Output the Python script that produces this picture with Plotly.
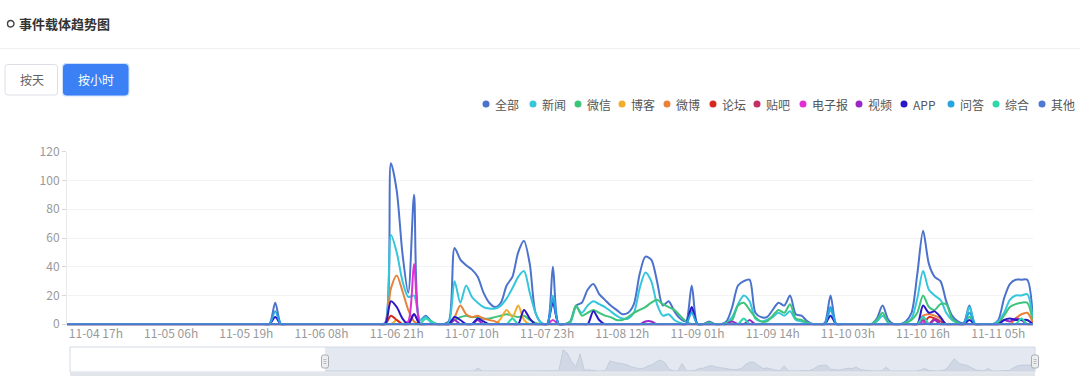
import plotly.graph_objects as go
import pandas as pd

W, H = 1080, 376

# ---------------- data (hourly, 11-04 12h .. 11-11 11h) ----------------
start_time = "2022-11-04 12:00"
n_hours = 168
times = pd.date_range(start_time, periods=n_hours, freq="h")

series_names = ["全部", "新闻", "微信", "博客", "微博", "论坛", "贴吧",
                "电子报", "视频", "APP", "问答", "综合", "其他"]
series_colors = ["#4b72cc", "#35c6db", "#3cc47a", "#f2ad2c", "#e8823a", "#d6281e",
                 "#c22f60", "#e02fd3", "#9a27c8", "#2a17c6", "#28a4df", "#2fd8a8", "#4f78d3"]

quanbu = [
    0, 0, 0, 0, 0, 0, 0, 0, 0, 0, 0, 0, 0, 0, 0, 0, 0, 0, 0, 0, 0, 0, 0, 0,
    0, 0, 0, 0, 0, 0, 0, 0, 0, 0, 0, 0, 15, 0, 0, 0, 0, 0, 0, 0, 0, 0, 0, 0,
    0, 0, 0, 0, 0, 0, 0, 1, 112, 93, 49, 22, 90, 3, 6, 2, 0, 0, 2, 53, 45, 41, 38, 33,
    22, 15, 12, 15, 27, 33, 50, 58, 42, 8, 1, 0, 40, 0, 0, 2, 13, 15, 24, 28, 21, 17, 13, 10,
    7, 8, 14, 35, 47, 45, 30, 13, 16, 9, 4, 2, 27, 0, 0, 2, 0, 0, 2, 12, 27, 30, 31, 8,
    5, 5, 10, 15, 13, 20, 7, 6, 2, 0, 0, 1, 20, 0, 0, 0, 0, 0, 0, 0, 4, 13, 3, 0,
    0, 2, 8, 35, 65, 42, 33, 30, 16, 6, 2, 1, 13, 0, 0, 0, 0, 3, 18, 28, 31, 31, 31, 3,
]
xinwen = [
    0, 0, 0, 0, 0, 0, 0, 0, 0, 0, 0, 0, 0, 0, 0, 0, 0, 0, 0, 0, 0, 0, 0, 0,
    0, 0, 0, 0, 0, 0, 0, 0, 0, 0, 0, 0, 0, 0, 0, 0, 0, 0, 0, 0, 0, 0, 0, 0,
    0, 0, 0, 0, 0, 0, 0, 0, 62, 50, 30, 19, 20, 3, 5, 1, 0, 0, 1, 30, 15, 27, 19, 15,
    12, 11, 11, 13, 18, 25, 33, 37, 22, 8, 1, 0, 20, 0, 0, 1, 12, 8, 13, 16, 14, 12, 9, 6,
    4, 4, 8, 25, 36, 30, 14, 6, 7, 3, 1, 0, 10, 0, 0, 1, 0, 0, 1, 5, 14, 20, 16, 4,
    2, 3, 5, 8, 6, 9, 3, 2, 1, 0, 0, 0, 10, 0, 0, 0, 0, 0, 0, 0, 2, 6, 1, 0,
    0, 1, 4, 18, 37, 24, 20, 17, 8, 3, 1, 0, 12, 0, 0, 0, 0, 2, 8, 17, 20, 20, 21, 2,
]
weixin = [
    0, 0, 0, 0, 0, 0, 0, 0, 0, 0, 0, 0, 0, 0, 0, 0, 0, 0, 0, 0, 0, 0, 0, 0,
    0, 0, 0, 0, 0, 0, 0, 0, 0, 0, 0, 0, 0, 0, 0, 0, 0, 0, 0, 0, 0, 0, 0, 0,
    0, 0, 0, 0, 0, 0, 0, 0, 0, 0, 0, 0, 0, 0, 0, 0, 0, 0, 0, 3, 5, 6, 5, 5,
    4, 4, 5, 6, 7, 6, 5, 6, 3, 1, 0, 0, 0, 0, 0, 2, 13, 6, 8, 10, 8, 6, 5, 3,
    3, 5, 8, 10, 12, 15, 17, 14, 12, 10, 6, 2, 0, 0, 0, 1, 0, 0, 1, 3, 13, 15, 10, 5,
    2, 2, 6, 10, 8, 14, 4, 3, 1, 0, 0, 0, 0, 0, 0, 0, 0, 0, 0, 0, 3, 8, 1, 0,
    0, 1, 3, 8, 20, 12, 10, 14, 14, 4, 1, 0, 5, 0, 0, 0, 0, 1, 6, 12, 14, 15, 15, 1,
]
boke = [
    0, 0, 0, 0, 0, 0, 0, 0, 0, 0, 0, 0, 0, 0, 0, 0, 0, 0, 0, 0, 0, 0, 0, 0,
    0, 0, 0, 0, 0, 0, 0, 0, 0, 0, 0, 0, 0, 0, 0, 0, 0, 0, 0, 0, 0, 0, 0, 0,
    0, 0, 0, 0, 0, 0, 0, 0, 0, 3, 0, 0, 0, 0, 0, 0, 0, 0, 0, 0, 0, 0, 0, 0,
    0, 0, 0, 4, 10, 5, 13, 3, 0, 0, 0, 0, 0, 0, 0, 0, 0, 0, 0, 0, 0, 0, 0, 0,
    0, 0, 0, 0, 0, 0, 0, 0, 0, 0, 0, 0, 0, 0, 0, 0, 0, 0, 0, 0, 0, 0, 0, 0,
    0, 0, 0, 0, 0, 0, 0, 0, 0, 0, 0, 0, 0, 0, 0, 0, 0, 0, 0, 0, 0, 0, 0, 0,
    0, 0, 0, 0, 0, 0, 0, 0, 0, 0, 0, 0, 0, 0, 0, 0, 0, 0, 0, 0, 0, 0, 0, 0,
]
weibo = [
    0, 0, 0, 0, 0, 0, 0, 0, 0, 0, 0, 0, 0, 0, 0, 0, 0, 0, 0, 0, 0, 0, 0, 0,
    0, 0, 0, 0, 0, 0, 0, 0, 0, 0, 0, 0, 0, 0, 0, 0, 0, 0, 0, 0, 0, 0, 0, 0,
    0, 0, 0, 0, 0, 0, 0, 0, 25, 34, 23, 10, 2, 0, 0, 0, 0, 0, 0, 5, 13, 7, 5, 6,
    4, 3, 2, 0, 0, 0, 0, 0, 0, 0, 0, 0, 0, 0, 0, 0, 0, 0, 0, 0, 0, 0, 0, 0,
    0, 0, 0, 0, 0, 0, 0, 0, 0, 0, 0, 0, 0, 0, 0, 0, 0, 0, 0, 0, 0, 0, 0, 0,
    0, 0, 0, 0, 0, 0, 0, 0, 0, 0, 0, 0, 0, 0, 0, 0, 0, 0, 0, 0, 0, 0, 0, 0,
    0, 0, 0, 0, 6, 7, 6, 4, 0, 0, 0, 0, 0, 0, 0, 0, 0, 0, 0, 0, 4, 7, 8, 1,
]
luntan = [
    0, 0, 0, 0, 0, 0, 0, 0, 0, 0, 0, 0, 0, 0, 0, 0, 0, 0, 0, 0, 0, 0, 0, 0,
    0, 0, 0, 0, 0, 0, 0, 0, 0, 0, 0, 0, 0, 0, 0, 0, 0, 0, 0, 0, 0, 0, 0, 0,
    0, 0, 0, 0, 0, 0, 0, 0, 6, 3, 0, 0, 0, 0, 0, 0, 0, 0, 0, 0, 0, 0, 0, 0,
    0, 0, 0, 0, 0, 0, 0, 0, 0, 0, 0, 0, 0, 0, 0, 0, 0, 0, 0, 0, 0, 0, 0, 0,
    0, 0, 0, 0, 0, 0, 0, 0, 0, 0, 0, 0, 0, 0, 0, 0, 0, 0, 0, 0, 0, 0, 0, 0,
    0, 0, 0, 0, 0, 0, 0, 0, 0, 0, 0, 0, 0, 0, 0, 0, 0, 0, 0, 0, 0, 0, 0, 0,
    0, 0, 0, 0, 0, 5, 4, 0, 0, 0, 0, 0, 0, 0, 0, 0, 0, 0, 0, 0, 0, 0, 0, 0,
]
tieba = [
    0, 0, 0, 0, 0, 0, 0, 0, 0, 0, 0, 0, 0, 0, 0, 0, 0, 0, 0, 0, 0, 0, 0, 0,
    0, 0, 0, 0, 0, 0, 0, 0, 0, 0, 0, 0, 0, 0, 0, 0, 0, 0, 0, 0, 0, 0, 0, 0,
    0, 0, 0, 0, 0, 0, 0, 0, 0, 0, 0, 0, 0, 0, 0, 0, 0, 0, 0, 0, 0, 0, 0, 0,
    0, 0, 0, 0, 0, 0, 0, 0, 0, 0, 0, 0, 0, 0, 0, 0, 0, 0, 0, 0, 0, 0, 0, 0,
    0, 0, 0, 0, 0, 0, 0, 0, 0, 0, 0, 0, 0, 0, 0, 0, 0, 0, 0, 0, 0, 0, 0, 0,
    0, 0, 0, 0, 0, 0, 0, 0, 0, 0, 0, 0, 0, 0, 0, 0, 0, 0, 0, 0, 0, 0, 0, 0,
    0, 0, 0, 0, 3, 0, 4, 2, 0, 0, 0, 0, 0, 0, 0, 0, 0, 0, 0, 0, 0, 0, 0, 0,
]
dianzibao = [
    0, 0, 0, 0, 0, 0, 0, 0, 0, 0, 0, 0, 0, 0, 0, 0, 0, 0, 0, 0, 0, 0, 0, 0,
    0, 0, 0, 0, 0, 0, 0, 0, 0, 0, 0, 0, 0, 0, 0, 0, 0, 0, 0, 0, 0, 0, 0, 0,
    0, 0, 0, 0, 0, 0, 0, 0, 0, 0, 0, 2, 42, 1, 0, 0, 0, 0, 0, 0, 0, 0, 0, 0,
    0, 0, 0, 0, 0, 0, 0, 0, 0, 0, 0, 0, 3, 0, 0, 0, 0, 0, 0, 0, 0, 0, 0, 0,
    0, 0, 0, 0, 0, 0, 0, 0, 0, 0, 0, 0, 0, 0, 0, 0, 0, 0, 0, 0, 0, 0, 0, 0,
    0, 0, 0, 0, 0, 0, 0, 0, 0, 0, 0, 0, 0, 0, 0, 0, 0, 0, 0, 0, 0, 0, 0, 0,
    0, 0, 0, 0, 2, 0, 0, 0, 0, 0, 0, 0, 0, 0, 0, 0, 0, 0, 0, 0, 0, 0, 0, 0,
]
shipin = [
    0, 0, 0, 0, 0, 0, 0, 0, 0, 0, 0, 0, 0, 0, 0, 0, 0, 0, 0, 0, 0, 0, 0, 0,
    0, 0, 0, 0, 0, 0, 0, 0, 0, 0, 0, 0, 0, 0, 0, 0, 0, 0, 0, 0, 0, 0, 0, 0,
    0, 0, 0, 0, 0, 0, 0, 0, 0, 0, 0, 0, 7, 0, 0, 0, 0, 0, 0, 3, 0, 0, 0, 3,
    0, 0, 0, 0, 0, 0, 0, 0, 0, 0, 0, 0, 0, 0, 0, 0, 0, 0, 0, 0, 0, 0, 0, 0,
    0, 0, 0, 0, 2, 2, 0, 0, 0, 0, 0, 0, 0, 0, 0, 0, 0, 0, 0, 2, 0, 0, 3, 0,
    0, 0, 0, 0, 0, 0, 0, 0, 0, 0, 0, 0, 0, 0, 0, 0, 0, 0, 0, 0, 0, 0, 0, 0,
    0, 0, 0, 0, 5, 0, 3, 0, 0, 0, 0, 0, 0, 0, 0, 0, 0, 0, 3, 2, 4, 3, 0, 0,
]
app = [
    0, 0, 0, 0, 0, 0, 0, 0, 0, 0, 0, 0, 0, 0, 0, 0, 0, 0, 0, 0, 0, 0, 0, 0,
    0, 0, 0, 0, 0, 0, 0, 0, 0, 0, 0, 0, 5, 0, 0, 0, 0, 0, 0, 0, 0, 0, 0, 0,
    0, 0, 0, 0, 0, 0, 0, 0, 16, 12, 4, 0, 7, 0, 0, 0, 0, 0, 0, 5, 3, 0, 0, 4,
    2, 0, 0, 0, 0, 0, 0, 10, 4, 0, 0, 0, 15, 0, 0, 0, 0, 0, 0, 9, 3, 0, 0, 0,
    0, 0, 0, 0, 0, 0, 0, 0, 0, 0, 0, 0, 12, 0, 0, 0, 0, 0, 0, 0, 0, 0, 0, 0,
    0, 0, 0, 0, 0, 0, 0, 0, 0, 0, 0, 0, 6, 0, 0, 0, 0, 0, 0, 0, 0, 0, 0, 0,
    0, 0, 0, 0, 13, 8, 9, 5, 0, 0, 0, 0, 3, 0, 0, 0, 0, 0, 3, 4, 3, 3, 3, 0,
]
wenda = [
    0, 0, 0, 0, 0, 0, 0, 0, 0, 0, 0, 0, 0, 0, 0, 0, 0, 0, 0, 0, 0, 0, 0, 0,
    0, 0, 0, 0, 0, 0, 0, 0, 0, 0, 0, 0, 9, 0, 0, 0, 0, 0, 0, 0, 0, 0, 0, 0,
    0, 0, 0, 0, 0, 0, 0, 0, 0, 0, 0, 0, 0, 0, 0, 0, 0, 0, 0, 0, 0, 0, 0, 0,
    0, 0, 0, 0, 0, 0, 0, 0, 0, 0, 0, 0, 18, 0, 0, 0, 0, 0, 0, 0, 0, 0, 0, 0,
    0, 0, 0, 0, 0, 0, 0, 0, 0, 0, 0, 0, 8, 0, 0, 0, 0, 0, 0, 0, 0, 0, 0, 0,
    0, 0, 0, 0, 0, 0, 0, 0, 0, 0, 0, 0, 12, 0, 0, 0, 0, 0, 0, 0, 0, 0, 0, 0,
    0, 0, 0, 0, 0, 0, 0, 0, 0, 0, 0, 0, 8, 0, 0, 0, 0, 0, 0, 0, 0, 0, 0, 0,
]
zonghe = [
    0, 0, 0, 0, 0, 0, 0, 0, 0, 0, 0, 0, 0, 0, 0, 0, 0, 0, 0, 0, 0, 0, 0, 0,
    0, 0, 0, 0, 0, 0, 0, 0, 0, 0, 0, 0, 0, 0, 0, 0, 0, 0, 0, 0, 0, 0, 0, 0,
    0, 0, 0, 0, 0, 0, 0, 0, 0, 0, 0, 0, 0, 0, 4, 2, 0, 0, 0, 0, 0, 0, 0, 0,
    0, 0, 0, 0, 0, 4, 0, 0, 0, 0, 0, 0, 0, 0, 0, 0, 0, 0, 0, 0, 0, 0, 0, 0,
    0, 0, 0, 0, 0, 0, 0, 0, 0, 0, 0, 0, 0, 0, 0, 0, 0, 0, 0, 0, 0, 4, 0, 0,
    0, 0, 0, 0, 0, 0, 0, 0, 0, 0, 0, 0, 0, 0, 0, 0, 0, 0, 0, 0, 0, 0, 0, 0,
    0, 0, 0, 0, 5, 0, 0, 0, 0, 0, 0, 0, 0, 0, 0, 0, 0, 0, 0, 0, 0, 4, 0, 0,
]
qita = [
    0, 0, 0, 0, 0, 0, 0, 0, 0, 0, 0, 0, 0, 0, 0, 0, 0, 0, 0, 0, 0, 0, 0, 0,
    0, 0, 0, 0, 0, 0, 0, 0, 0, 0, 0, 0, 0, 0, 0, 0, 0, 0, 0, 0, 0, 0, 0, 0,
    0, 0, 0, 0, 0, 0, 0, 0, 0, 0, 0, 0, 0, 0, 0, 0, 0, 0, 0, 0, 0, 0, 0, 0,
    0, 0, 0, 0, 0, 0, 0, 0, 0, 0, 0, 0, 0, 0, 0, 0, 0, 0, 0, 0, 0, 0, 0, 0,
    0, 0, 0, 0, 0, 0, 0, 0, 0, 0, 0, 0, 0, 0, 0, 0, 0, 0, 0, 0, 0, 0, 0, 0,
    0, 0, 0, 0, 0, 0, 0, 0, 0, 0, 0, 0, 0, 0, 0, 0, 0, 0, 0, 0, 0, 0, 0, 0,
    0, 0, 0, 0, 0, 0, 0, 0, 0, 0, 0, 0, 0, 0, 0, 0, 0, 0, 0, 0, 0, 0, 0, 0,
]
series_values = [quanbu, xinwen, weixin, boke, weibo, luntan, tieba,
                 dianzibao, shipin, app, wenda, zonghe, qita]

y_ticks = [0, 20, 40, 60, 80, 100, 120]
title_text = "事件载体趋势图"
button_labels = ["按天", "按小时"]

# ---------------- helpers (pixel -> paper) ----------------
FONT = "Noto Sans CJK SC"


def fx(x):
    return x / W


def fy(y):
    return 1 - y / H


def rounded_rect(x0, y0, x1, y1, r):
    X0, X1 = fx(x0), fx(x1)
    Y0, Y1 = fy(y0), fy(y1)
    rx, ry = r / W, r / H
    return (f"M {X0+rx},{Y0} L {X1-rx},{Y0} Q {X1},{Y0} {X1},{Y0-ry} "
            f"L {X1},{Y1+ry} Q {X1},{Y1} {X1-rx},{Y1} L {X0+rx},{Y1} "
            f"Q {X0},{Y1} {X0},{Y1+ry} L {X0},{Y0-ry} Q {X0},{Y0} {X0+rx},{Y0} Z")


fig = go.Figure()

# data shadow in the zoom slider
fig.add_trace(go.Scatter(
    x=times, y=quanbu, xaxis="x2", yaxis="y2", mode="lines",
    line=dict(color="#bfc7d5", width=0.8), fill="tozeroy",
    fillcolor="rgba(175,186,205,0.35)", showlegend=False, hoverinfo="skip"))

for name, color, vals in zip(series_names, series_colors, series_values):
    fig.add_trace(go.Scatter(
        x=times, y=vals, name=name, mode="lines",
        line=dict(color=color, width=2, shape="spline", smoothing=0.8),
        showlegend=False,
        hovertemplate=name + ": %{y}<extra></extra>"))

shapes = []
annotations = []

# header
shapes.append(dict(type="circle", xref="paper", yref="paper",
                   x0=fx(7.5), x1=fx(14), y0=fy(20.5), y1=fy(27),
                   line=dict(color="#444", width=1.4)))
annotations.append(dict(text="<b>" + title_text + "</b>", xref="paper", yref="paper",
                        x=fx(17), y=fy(23.5), xanchor="left", yanchor="middle",
                        showarrow=False, font=dict(family=FONT, size=13, color="#333")))
shapes.append(dict(type="line", xref="paper", yref="paper",
                   x0=0, x1=1, y0=fy(48.5), y1=fy(48.5),
                   line=dict(color="#f0f0f0", width=1)))

# buttons
shapes.append(dict(type="path", xref="paper", yref="paper",
                   path=rounded_rect(5, 64.5, 57.5, 95, 3),
                   fillcolor="white", line=dict(color="#dcdfe6", width=1)))
shapes.append(dict(type="path", xref="paper", yref="paper",
                   path=rounded_rect(62, 63, 129.5, 96.5, 4),
                   fillcolor="rgba(60,130,246,0.25)", line=dict(width=0)))
shapes.append(dict(type="path", xref="paper", yref="paper",
                   path=rounded_rect(63.5, 64.5, 128, 95, 3),
                   fillcolor="#3b80f5", line=dict(color="#3b80f5", width=1)))
annotations.append(dict(text=button_labels[0], xref="paper", yref="paper",
                        x=fx(32), y=fy(80), showarrow=False,
                        xanchor="center", yanchor="middle",
                        font=dict(family=FONT, size=12, color="#606266")))
annotations.append(dict(text=button_labels[1], xref="paper", yref="paper",
                        x=fx(96), y=fy(80), showarrow=False,
                        xanchor="center", yanchor="middle",
                        font=dict(family=FONT, size=12, color="white")))

# custom legend (dot + label)
legend_dot_x = [486, 533, 578, 622, 667, 713, 757, 803, 859, 904, 951, 996, 1042]
for name, color, lx in zip(series_names, series_colors, legend_dot_x):
    shapes.append(dict(type="circle", xref="paper", yref="paper",
                       x0=fx(lx - 3.5), x1=fx(lx + 3.5), y0=fy(100.5), y1=fy(107.5),
                       fillcolor=color, line=dict(width=0)))
    annotations.append(dict(text=name, xref="paper", yref="paper",
                            x=fx(lx + 7), y=fy(104), xanchor="left", yanchor="middle",
                            showarrow=False,
                            font=dict(family=FONT, size=12, color="#555")))

# zoom slider
shapes.append(dict(type="rect", xref="paper", yref="paper", layer="below",
                   x0=fx(325), x1=fx(1035), y0=fy(347), y1=fy(372),
                   fillcolor="#e3e8f1", line=dict(width=0)))
shapes.append(dict(type="rect", xref="paper", yref="paper",
                   x0=fx(70), x1=fx(1035), y0=fy(347), y1=fy(372),
                   line=dict(color="#d3d9e4", width=1)))
shapes.append(dict(type="rect", xref="paper", yref="paper",
                   x0=fx(70), x1=fx(1035), y0=fy(372.5), y1=fy(376),
                   fillcolor="#e2e5ea", line=dict(width=0)))
for hx in (325, 1035):
    shapes.append(dict(type="path", xref="paper", yref="paper",
                       path=rounded_rect(hx - 3.5, 355, hx + 3.5, 368, 2),
                       fillcolor="#eeeeee", line=dict(color="#a9adb5", width=1)))
    for ly in (359.5, 361.5, 363.5):
        shapes.append(dict(type="line", xref="paper", yref="paper",
                           x0=fx(hx - 1.5), x1=fx(hx + 1.5), y0=fy(ly), y1=fy(ly),
                           line=dict(color="#a9adb5", width=0.8)))

fig.update_layout(
    width=W, height=H,
    margin=dict(l=0, r=0, t=0, b=0, pad=0, autoexpand=False),
    paper_bgcolor="white", plot_bgcolor="white",
    font=dict(family=FONT, size=12, color="#999"),
    showlegend=False,
    hovermode="x",
    xaxis=dict(
        domain=[fx(67), fx(1033)], anchor="y", type="date",
        range=[times[0], times[-1]],
        tick0="2022-11-04 17:00", dtick=13 * 3600 * 1000,
        tickformat="%m-%d %Hh", automargin=False,
        showgrid=False, zeroline=False, showline=False, ticks="",
        tickfont=dict(family=FONT, size=12, color="#999"),
    ),
    yaxis=dict(
        domain=[fy(325.3), fy(151.7)], anchor="x",
        range=[-0.7, 120], tickvals=y_ticks, automargin=False,
        showgrid=True, gridcolor="#f3f3f3", gridwidth=1,
        zeroline=False, showline=True, linecolor="#e8e8e8",
        ticks="outside", ticklen=4, tickcolor="#d8d8d8",
        tickfont=dict(family=FONT, size=12, color="#999"),
    ),
    xaxis2=dict(domain=[fx(325), fx(1035)], anchor="y2", type="date",
                range=[times[0], times[-1]], visible=False, automargin=False),
    yaxis2=dict(domain=[fy(371), fy(349)], anchor="x2", range=[0, 116],
                visible=False, automargin=False),
    shapes=shapes,
    annotations=annotations,
)

fig.write_html(
    "out.html",
    config={"displayModeBar": False},
    post_script="document.body.style.margin='0';document.body.style.overflow='hidden';",
)
